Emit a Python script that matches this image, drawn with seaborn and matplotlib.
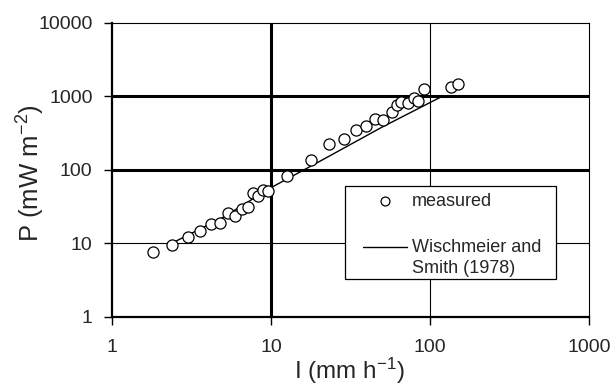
import matplotlib
matplotlib.use("Agg")
import matplotlib.pyplot as plt
from matplotlib.patches import Rectangle
import seaborn as sns
import pandas as pd
import numpy as np

intensity = [1.80, 2.39, 3.00, 3.59, 4.19, 4.80, 5.35, 5.96, 6.53, 7.19, 7.74, 8.29,
             8.93, 9.61, 12.6, 17.9, 23.2, 28.6, 34.0, 39.4, 45.1, 50.3, 57.3, 61.7,
             66.0, 73.2, 78.8, 84.3, 91.8, 135, 150]
power = [7.7, 9.6, 12.2, 14.8, 18.2, 18.8, 26.0, 23.4, 29.2, 31.1, 48.7, 44.3,
         52.9, 50.7, 82.8, 135, 221, 264, 346, 393, 489, 474, 609, 758,
         833, 816, 954, 869, 1238, 1346, 1449]

# Wischmeier and Smith (1978) curve
ws_intensity = [2.4, 5.0, 10.0, 20.0, 50.0, 117.0]
ws_power = [10.1, 22.5, 57.0, 128.0, 380.0, 975.0]

x_ticks = [1, 10, 100, 1000]
y_ticks = [1, 10, 100, 1000, 10000]
x_ticklabels = ["1", "10", "100", "1000"]
y_ticklabels = ["1", "10", "100", "1000", "10000"]

sns.set_style("white")
plt.rcParams["font.family"] = ["Liberation Sans", "DejaVu Sans"]
plt.rcParams["mathtext.fontset"] = "custom"
plt.rcParams["mathtext.rm"] = "Liberation Sans"
plt.rcParams["mathtext.it"] = "Liberation Sans:italic"
plt.rcParams["mathtext.bf"] = "Liberation Sans:bold"

meas = pd.DataFrame({"I": intensity, "P": power})
ws = pd.DataFrame({"I": ws_intensity, "P": ws_power})

fig = plt.figure(figsize=(6.14, 3.86), dpi=100)
ax = fig.add_axes([0.1824, 0.1795, 0.7769, 0.7617])
ax.set_xscale("log")
ax.set_yscale("log")
ax.set_xlim(1, 1000)
ax.set_ylim(1, 10000)

# grid lines (Excel style: some thick, some thin)
ax.axvline(10, color="black", lw=2.2, zorder=1)
ax.axvline(100, color="black", lw=0.8, zorder=1)
ax.axhline(10, color="black", lw=0.8, zorder=1)
ax.axhline(100, color="black", lw=2.2, zorder=1)
ax.axhline(1000, color="black", lw=2.2, zorder=1)

sns.lineplot(data=ws, x="I", y="P", ax=ax, color="black", lw=1.0,
             label="Wischmeier and\nSmith (1978)", zorder=2, legend=False)
sns.scatterplot(data=meas, x="I", y="P", ax=ax, marker="o", s=64,
                facecolor="white", edgecolor="black", linewidth=0.9,
                label="measured", zorder=3, legend=False)

for side in ["top", "right"]:
    ax.spines[side].set_linewidth(0.8)
    ax.spines[side].set_color("black")
for side in ["left", "bottom"]:
    ax.spines[side].set_linewidth(1.6)
    ax.spines[side].set_color("black")

ax.set_xticks(x_ticks)
ax.set_xticklabels(x_ticklabels)
ax.set_yticks(y_ticks)
ax.set_yticklabels(y_ticklabels)
ax.minorticks_off()
ax.tick_params(axis="both", which="major", direction="out", length=6, width=1,
               color="black", labelsize=14, left=True, bottom=True)
ax.tick_params(axis="x", pad=10)
ax.tick_params(axis="y", pad=8)

ax.set_xlabel(r"I (mm h$^{-1}$)", fontsize=17.5)
ax.set_ylabel(r"P (mW m$^{-2}$)", fontsize=18.5)
ax.xaxis.set_label_coords(0.497, -0.132)
ax.yaxis.set_label_coords(-0.137, 0.489)

# legend frame (white box with black border)
ax.add_patch(Rectangle((0.4885, 0.1272), 0.4424, 0.3173, transform=ax.transAxes,
                       facecolor="white", edgecolor="black", lw=0.9, zorder=4))

handles, labels = ax.get_legend_handles_labels()
order = [labels.index("measured"), labels.index("Wischmeier and\nSmith (1978)")]
leg = ax.legend([handles[i] for i in order], [labels[i] for i in order],
                loc="upper left", bbox_to_anchor=(0.526, 0.4224),
                frameon=False, fontsize=13, labelspacing=1.66, handlelength=2.45,
                handletextpad=0.28, borderpad=0, borderaxespad=0, markerscale=0.8)
for t in leg.get_texts():
    t.set_linespacing(1.3)
# align the line handle with the first text line, as in the reference
for ln in leg.get_lines():
    ln.set_ydata(np.asarray(ln.get_ydata()) + 8.6)
leg.set_zorder(5)

fig.savefig("out.png", dpi=100)
